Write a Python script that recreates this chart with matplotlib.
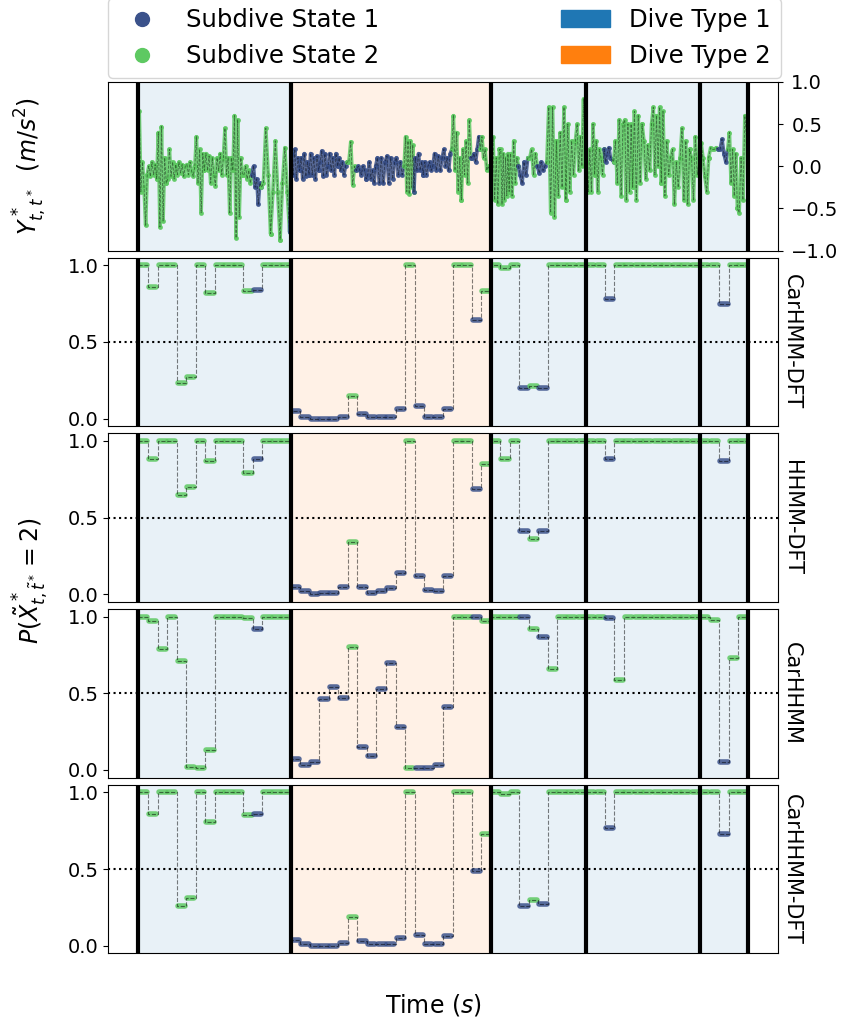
import numpy as np
import matplotlib.pyplot as plt
from matplotlib.lines import Line2D
from matplotlib.patches import Patch

plt.rcParams['font.size'] = 14

# --- data -------------------------------------------------------------
window_len = 2.0                      # seconds per subdive window
dive_windows = [16, 21, 10, 12, 5]    # windows in each dive
dive_types = [1, 2, 1, 1, 1]

# decoded subdive state of each window (1 or 2)
states = ([2] * 12 + [1] + [2] * 3
          + [1] * 6 + [2] + [1] * 5 + [2] + [1] * 4 + [2, 2, 1, 2]
          + [2, 2, 2, 1, 2, 1, 2, 2, 2, 2]
          + [2, 2, 1] + [2] * 9
          + [2, 2, 1, 2, 2])

model_names = ['CarHMM-DFT', 'HHMM-DFT', 'CarHHMM', 'CarHHMM-DFT']

prob_carhmm_dft = ([1.0, 0.86, 1.0, 1.0, 0.23, 0.27, 1.0, 0.82, 1.0, 1.0, 1.0, 0.83, 0.84, 1.0, 1.0, 1.0]
                   + [0.05, 0.01, 0.0, 0.0, 0.0, 0.01, 0.15, 0.03, 0.01, 0.01, 0.01, 0.06, 1.0, 0.08,
                      0.01, 0.01, 0.06, 1.0, 1.0, 0.64, 0.83]
                   + [1.0, 0.98, 1.0, 0.20, 0.21, 0.20, 1.0, 1.0, 1.0, 1.0]
                   + [1.0, 1.0, 0.78, 1.0, 1.0, 1.0, 1.0, 1.0, 1.0, 1.0, 1.0, 1.0]
                   + [1.0, 1.0, 0.75, 1.0, 1.0])
prob_hhmm_dft = ([1.0, 0.88, 1.0, 1.0, 0.65, 0.70, 1.0, 0.87, 1.0, 1.0, 1.0, 0.79, 0.88, 1.0, 1.0, 1.0]
                 + [0.05, 0.02, 0.0, 0.01, 0.01, 0.05, 0.34, 0.05, 0.01, 0.02, 0.04, 0.14, 1.0, 0.12,
                    0.03, 0.02, 0.12, 1.0, 1.0, 0.69, 0.85]
                 + [1.0, 0.88, 1.0, 0.41, 0.36, 0.41, 1.0, 1.0, 1.0, 1.0]
                 + [1.0, 1.0, 0.88, 1.0, 1.0, 1.0, 1.0, 1.0, 1.0, 1.0, 1.0, 1.0]
                 + [1.0, 1.0, 0.87, 1.0, 1.0])
prob_carhhmm = ([1.0, 0.97, 0.79, 1.0, 0.71, 0.02, 0.01, 0.13, 1.0, 1.0, 1.0, 0.99, 0.92, 1.0, 1.0, 1.0]
                + [0.07, 0.03, 0.05, 0.46, 0.54, 0.47, 0.80, 0.15, 0.09, 0.53, 0.70, 0.28, 0.01, 0.01,
                   0.01, 0.03, 0.41, 1.0, 1.0, 1.0, 0.97]
                + [1.0, 1.0, 1.0, 1.0, 0.92, 0.87, 0.66, 1.0, 1.0, 1.0]
                + [1.0, 1.0, 0.99, 0.59, 1.0, 1.0, 1.0, 1.0, 1.0, 1.0, 1.0, 1.0]
                + [1.0, 0.98, 0.05, 0.73, 1.0])
prob_carhhmm_dft = ([1.0, 0.86, 1.0, 1.0, 0.26, 0.31, 1.0, 0.81, 1.0, 1.0, 1.0, 0.85, 0.86, 1.0, 1.0, 1.0]
                    + [0.04, 0.01, 0.0, 0.0, 0.0, 0.02, 0.19, 0.03, 0.01, 0.01, 0.01, 0.05, 1.0, 0.07,
                       0.01, 0.01, 0.06, 1.0, 1.0, 0.49, 0.73]
                    + [1.0, 0.99, 1.0, 0.26, 0.30, 0.27, 1.0, 1.0, 1.0, 1.0]
                    + [1.0, 1.0, 0.77, 1.0, 1.0, 1.0, 1.0, 1.0, 1.0, 1.0, 1.0, 1.0]
                    + [1.0, 1.0, 0.73, 1.0, 1.0])

# acceleration (m/s^2) read per window, evenly spaced inside the window
accel_dive1 = [
    [0.65, -0.30, 0.05, -0.25, -0.70, -0.10],
    [0.00, -0.12, 0.05, -0.10, 0.02, -0.15],
    [0.40, -0.72, 0.47, -0.65, 0.10, -0.20],
    [-0.15, 0.20, -0.12, 0.05, -0.15, 0.02],
    [-0.10, 0.05, -0.08, 0.02, -0.12, 0.00],
    [0.02, -0.10, 0.05, -0.06, -0.12, 0.00],
    [0.35, -0.20, 0.20, -0.55, 0.15, -0.05],
    [0.15, -0.05, 0.12, -0.20, 0.10, -0.10],
    [-0.23, 0.10, -0.05, 0.15, -0.10, 0.10],
    [0.45, -0.10, 0.10, -0.55, 0.10, -0.05],
    [0.60, -0.85, 0.55, -0.60, 0.10, -0.10],
    [-0.10, 0.00, -0.15, -0.05, -0.20, -0.10],
    [0.00, -0.25, -0.15, -0.45, -0.20, -0.25],
    [-0.20, 0.45, -0.10, -0.80],
    [-0.30, 0.30, -0.30, -0.87],
    [-0.20, 0.22, -0.30, -0.78],
]
accel_dive2 = [
    [0.15, -0.10, 0.20, -0.15, 0.10, -0.05],
    [0.10, -0.15, 0.15, -0.12, 0.05, -0.10],
    [0.15, -0.10, 0.10, -0.15, 0.12, -0.05],
    [0.05, 0.18, -0.12, 0.15, -0.10, 0.00],
    [0.15, -0.05, 0.10, -0.10, 0.15, 0.00],
    [0.10, -0.05, 0.05, -0.10, 0.00, 0.05],
    [0.05, 0.29, -0.22, 0.00, -0.05],
    [0.00, -0.05, -0.10, 0.00, -0.05, -0.15],
    [-0.10, 0.05, -0.15, -0.05, -0.20, 0.00],
    [0.10, -0.20, 0.10, -0.20, 0.05],
    [0.12, -0.20, 0.10, -0.15, 0.05],
    [0.10, -0.10, 0.05, -0.10, 0.00],
    [0.35, -0.30, 0.30, -0.33, 0.30, -0.25, 0.25, -0.30],
    [0.10, -0.05, 0.15, -0.05, 0.05, -0.10],
    [0.05, -0.10, 0.00, 0.05, -0.05, 0.00],
    [0.15, -0.05, 0.12, -0.05, 0.10],
    [0.20, 0.00, 0.10, -0.05, 0.15, 0.20],
    [0.60, -0.05, 0.40, -0.30, 0.10, -0.40],
    [0.20, -0.10, 0.30, -0.20, 0.55, 0.10],
    [0.10, 0.15, 0.05, 0.20, 0.35, 0.20],
    [0.35, 0.10, 0.20, -0.05, 0.00, -0.05],
]
accel_dive3 = [
    [0.00, 0.35, -0.40, 0.10, -0.45, 0.20],
    [0.20, -0.45, 0.15, -0.40, 0.10, -0.35, 0.15, -0.30],
    [0.15, -0.35, 0.30, -0.20, 0.10, 0.00],
    [-0.10, -0.20, 0.05, -0.10, 0.10],
    [0.10, 0.20, -0.10, 0.15, 0.00],
    [-0.08, 0.05, -0.05, 0.00, 0.05],
    [0.70, -0.55, 0.70, -0.60, 0.30],
    [-0.35, 0.40, -0.25, 0.70, -0.40],
    [0.50, -0.30, 0.30, -0.10, 0.30],
    [0.50, -0.05, 0.35, 0.00, 0.80, 0.00],
]
accel_dive4 = [
    [0.05, -0.30, 0.20, -0.30, 0.50, -0.10],
    [0.30, -0.30, 0.20, 0.10, -0.10, 0.20],
    [0.05, 0.15, 0.22, 0.10, 0.08, 0.05],
    [0.30, -0.20, 0.55, -0.35, 0.50],
    [0.55, -0.40, 0.50, -0.30, 0.50, -0.25],
    [0.65, -0.40, 0.60, -0.20, 0.50],
    [0.30, -0.15, 0.25, -0.05, 0.50],
    [0.70, -0.10, 0.60, 0.00, 0.70, -0.20],
    [0.65, -0.35, 0.30, -0.10, 0.10],
    [0.20, -0.45, 0.05, -0.25, 0.10],
    [0.45, -0.40, 0.30, -0.45, 0.20],
    [0.10, -0.40, 0.35, -0.10, 0.10],
]
accel_dive5 = [
    [0.28, 0.10, -0.12, -0.30, 0.10],
    [0.22, 0.20, 0.20, 0.22, 0.20],
    [0.20, 0.32, 0.15, 0.05, 0.20],
    [0.40, -0.20, 0.20, -0.35, 0.15, -0.50],
    [-0.55, 0.10, -0.40, 0.60, 0.30],
]

# --- styling ----------------------------------------------------------
state_colors = {1: '#3b528b', 2: '#5ec962'}
dive_colors = {1: '#1f77b4', 2: '#ff7f0e'}

accel_windows = accel_dive1 + accel_dive2 + accel_dive3 + accel_dive4 + accel_dive5
model_probs = [prob_carhmm_dft, prob_hhmm_dft, prob_carhhmm, prob_carhhmm_dft]

n_win = sum(dive_windows)
t_edges = np.arange(n_win + 1) * window_len
dive_edges = np.concatenate([[0], np.cumsum(dive_windows)]) * window_len
t_span = t_edges[-1] - t_edges[0]
xlim = (t_edges[0] - 0.05 * t_span, t_edges[-1] + 0.05 * t_span)

fig = plt.figure(figsize=(8.44, 10.24), dpi=100)
axes = fig.subplots(5, 1, sharex=True, gridspec_kw=dict(hspace=0.042))
fig.subplots_adjust(left=0.128, right=0.922, top=0.920, bottom=0.069)


def decorate(ax):
    for d in range(len(dive_windows)):
        ax.axvspan(dive_edges[d], dive_edges[d + 1], color=dive_colors[dive_types[d]],
                   alpha=0.1, lw=0, zorder=0)
    for e in dive_edges:
        ax.axvline(e, color='k', lw=3, zorder=6)
    ax.set_xlim(*xlim)
    ax.set_xticks([])


# top panel: acceleration coloured by subdive state
ax = axes[0]
decorate(ax)
all_t, all_y, all_w = [], [], []
for i, vals in enumerate(accel_windows):
    n = len(vals)
    ts = t_edges[i] + (np.arange(n) + 0.5) / n * window_len
    all_t.extend(ts)
    all_y.extend(vals)
    all_w.extend([i] * n)
all_t = np.array(all_t)
all_y = np.array(all_y)
all_w = np.array(all_w)
for i in range(n_win):
    idx = np.where(all_w == i)[0]
    lo = max(idx[0] - 1, 0)
    ax.plot(all_t[lo:idx[-1] + 1], all_y[lo:idx[-1] + 1], color=state_colors[states[i]],
            lw=2.6, alpha=0.85, marker='o', ms=2.5, solid_capstyle='round', zorder=2)
ax.plot(all_t, all_y, '--', color='k', lw=0.6, alpha=0.45, zorder=3)
ax.set_ylim(-1, 1)
ax.yaxis.tick_right()
ax.tick_params(axis='y', pad=6)
ax.set_yticks([-1.0, -0.5, 0.0, 0.5, 1.0])
ax.set_ylabel(r'$Y^*_{t,t^*}\ \ (m/s^2)$', fontsize=17)
ax.yaxis.set_label_coords(-0.09, 0.5)

# probability panels
for ax, name, probs in zip(axes[1:], model_names, model_probs):
    decorate(ax)
    ax.axhline(0.5, color='k', ls=':', lw=1.5, zorder=1)
    xs = np.repeat(t_edges, 2)[1:-1]
    ys = np.repeat(probs, 2)
    ax.plot(xs, ys, '--', color='k', lw=0.8, alpha=0.5, zorder=3)
    inset = 0.12 * window_len
    for i, p in enumerate(probs):
        ax.plot([t_edges[i] + inset, t_edges[i + 1] - inset], [p, p],
                color=state_colors[states[i]], lw=4, alpha=0.85,
                solid_capstyle='round', zorder=2)
    ax.set_ylim(-0.05, 1.05)
    ax.set_yticks([0.0, 0.5, 1.0])
    ax.text(1.02, 0.5, name, transform=ax.transAxes, rotation=270,
            ha='center', va='center', fontsize=15)

fig.text(0.036, 0.433, r'$P(\tilde{X}^*_{t,\tilde{t}^*} = 2)$', rotation=90,
         ha='center', va='center', fontsize=17)
fig.text(0.513, 1 - 1005 / 1024, r'Time $(s)$', ha='center', va='center', fontsize=17)

handles = [Line2D([], [], ls='', marker='o', ms=10, color=state_colors[1]),
           Line2D([], [], ls='', marker='o', ms=10, color=state_colors[2]),
           Patch(color=dive_colors[1]), Patch(color=dive_colors[2])]
labels = ['Subdive State 1', 'Subdive State 2', 'Dive Type 1', 'Dive Type 2']
fig.legend(handles, labels, ncol=2, loc='lower left', mode='expand',
           bbox_to_anchor=(0.128, 1 - 78 / 1024, 0.797, 76 / 1024),
           borderaxespad=0, fontsize=17.5)

fig.savefig('out.png', dpi=100)
